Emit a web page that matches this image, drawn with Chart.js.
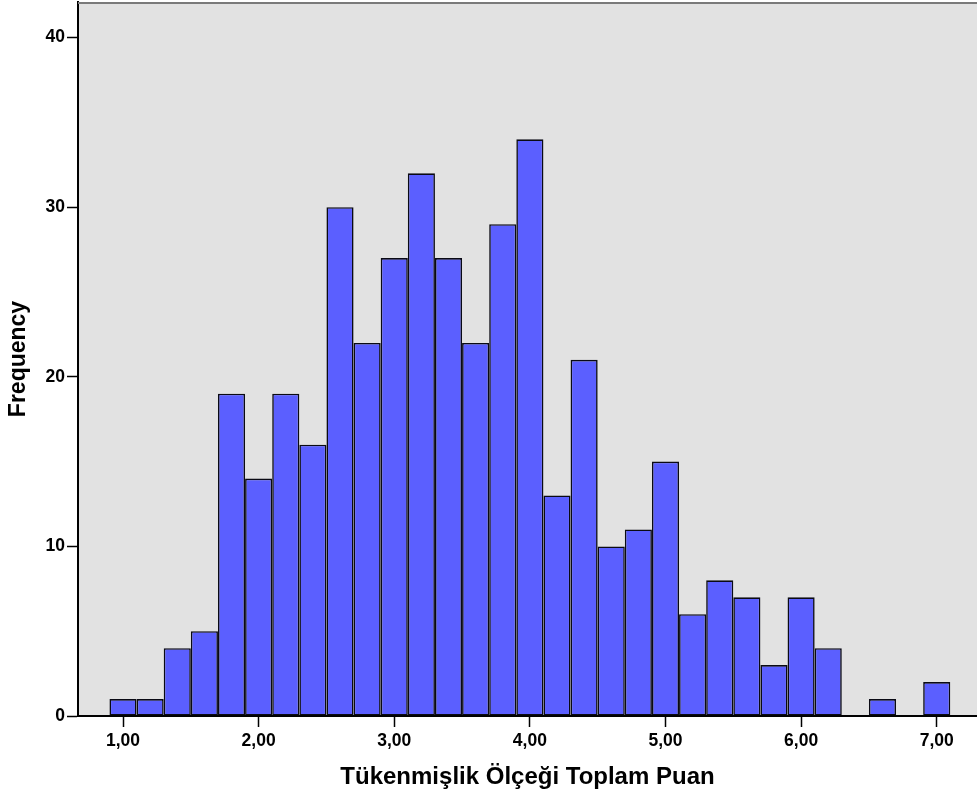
<!DOCTYPE html>
<html>
<head>
<meta charset="utf-8">
<script src="https://cdn.jsdelivr.net/npm/chart.js@4/dist/chart.umd.min.js"></script>
<style>
  html, body { margin: 0; padding: 0; background: #ffffff; }
  #wrap { width: 977px; height: 796px; position: relative; }
</style>
</head>
<body>
<div id="wrap"><canvas id="c"></canvas></div>
<script>
// Bin centres (bin width 0.2) of "Tükenmişlik Ölçeği Toplam Puan"
const binCenters = [1.0, 1.2, 1.4, 1.6, 1.8, 2.0, 2.2, 2.4, 2.6, 2.8,
                    3.0, 3.2, 3.4, 3.6, 3.8, 4.0, 4.2, 4.4, 4.6, 4.8,
                    5.0, 5.2, 5.4, 5.6, 5.8, 6.0, 6.2, 6.4, 6.6, 6.8, 7.0];
const frequencies = [1, 1, 4, 5, 19, 14, 19, 16, 30, 22,
                     27, 32, 27, 22, 29, 34, 13, 21, 10, 11,
                     15, 6, 8, 7, 3, 7, 4, 0, 1, 0, 2];
const xTickValues = [1, 2, 3, 4, 5, 6, 7];
const yTickValues = [0, 10, 20, 30, 40];
const xTitle = 'Tükenmişlik Ölçeği Toplam Puan';
const yTitle = 'Frequency';

const points = binCenters.map((x, i) => ({ x: x, y: frequencies[i] }));

const FONT = "'Liberation Sans', Arial, sans-serif";

const bgPlugin = {
  id: 'bg',
  beforeDraw(chart) {
    const { ctx, chartArea: a } = chart;
    ctx.save();
    ctx.fillStyle = '#ffffff';
    ctx.fillRect(0, 0, chart.width, chart.height);
    ctx.fillStyle = '#e2e2e2';
    ctx.fillRect(a.left, a.top, a.right - a.left, a.bottom - a.top);
    ctx.restore();
  },
  afterDraw(chart) {
    const { ctx, chartArea: a } = chart;
    ctx.save();
    ctx.strokeStyle = '#7a7a7a';
    ctx.lineWidth = 2;
    ctx.beginPath();
    ctx.moveTo(a.left, a.top + 1);
    ctx.lineTo(a.right, a.top + 1);
    ctx.stroke();
    ctx.restore();
  }
};

new Chart(document.getElementById('c'), {
  type: 'bar',
  data: {
    datasets: [{
      data: points,
      backgroundColor: 'rgb(91,95,255)',
      borderColor: '#0a0a14',
      borderWidth: 1.6,
      borderSkipped: false,
      barPercentage: 1.0,
      categoryPercentage: 1.0,
      inflateAmount: 0
    }]
  },
  plugins: [bgPlugin],
  options: {
    responsive: true,
    maintainAspectRatio: false,
    animation: false,
    layout: { padding: { top: 2, right: 0, left: 0, bottom: 0 } },
    plugins: {
      legend: { display: false },
      tooltip: { enabled: false }
    },
    scales: {
      x: {
        type: 'linear',
        min: 0.668,
        max: 7.297,
        offset: false,
        afterBuildTicks(scale) { scale.ticks = xTickValues.map(v => ({ value: v })); },
        afterFit(scale) { scale.height = 80; scale.paddingLeft = 0; scale.paddingRight = 0; },
        grid: { offset: false, drawOnChartArea: false, drawTicks: true, tickLength: 11, tickColor: '#000', tickWidth: 1.5 },
        border: { display: true, color: '#000', width: 2 },
        ticks: {
          color: '#000',
          padding: 4,
          maxRotation: 0,
          autoSkip: false,
          font: { family: FONT, weight: 'bold', size: 17.5 },
          callback: v => Number(v).toFixed(2).replace('.', ',')
        },
        title: {
          display: true,
          text: xTitle,
          color: '#000',
          padding: { top: 0, bottom: 4 },
          font: { family: FONT, weight: 'bold', size: 24 }
        }
      },
      y: {
        type: 'linear',
        min: 0,
        max: 42.1,
        afterBuildTicks(scale) { scale.ticks = yTickValues.map(v => ({ value: v })); },
        afterFit(scale) { scale.width = 78; scale.paddingTop = 0; scale.paddingBottom = 0; },
        grid: { drawOnChartArea: false, drawTicks: true, tickLength: 11, tickColor: '#000', tickWidth: 1.5 },
        border: { display: true, color: '#000', width: 2 },
        ticks: {
          color: '#000',
          padding: 2,
          font: { family: FONT, weight: 'bold', size: 17.5 }
        },
        title: {
          display: true,
          text: yTitle,
          color: '#000',
          padding: { top: 5, bottom: 0 },
          font: { family: FONT, weight: 'bold', size: 23 }
        }
      }
    }
  }
});
</script>
</body>
</html>
